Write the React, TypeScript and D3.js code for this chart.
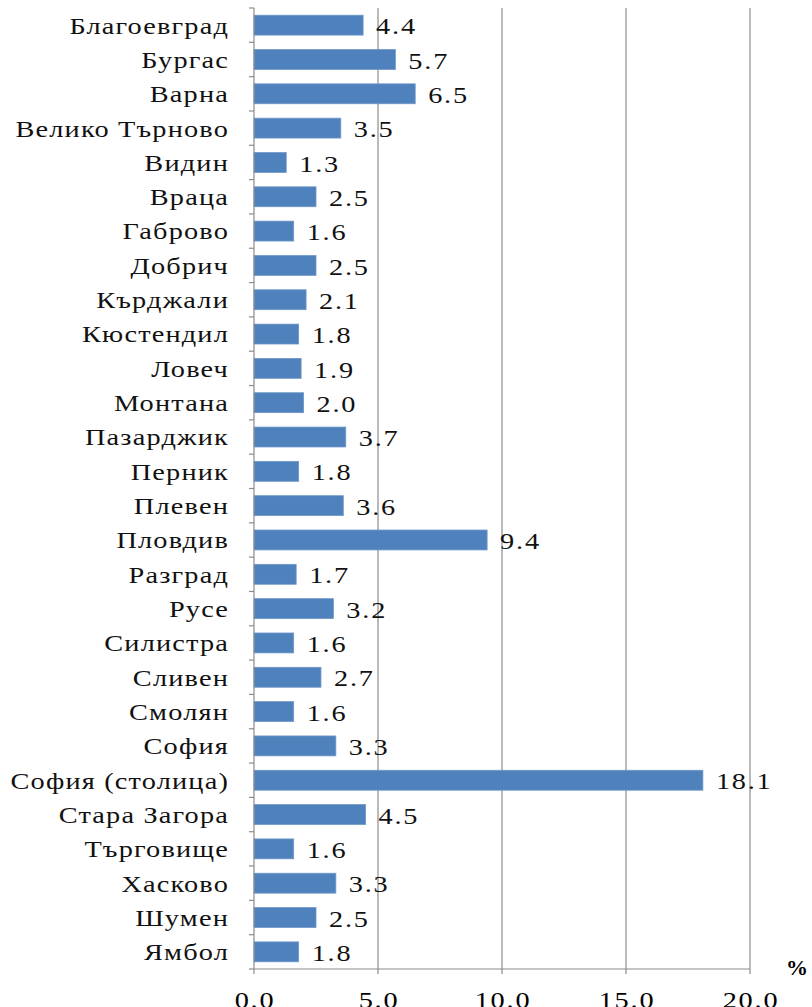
import React from 'react';
import * as d3 from 'd3';

// regions, top to bottom
const regions = [
  'Благоевград', 'Бургас', 'Варна', 'Велико Търново', 'Видин', 'Враца', 'Габрово',
  'Добрич', 'Кърджали', 'Кюстендил', 'Ловеч', 'Монтана', 'Пазарджик', 'Перник',
  'Плевен', 'Пловдив', 'Разград', 'Русе', 'Силистра', 'Сливен', 'Смолян', 'София',
  'София (столица)', 'Стара Загора', 'Търговище', 'Хасково', 'Шумен', 'Ямбол',
];
const shares = [
  4.4, 5.7, 6.5, 3.5, 1.3, 2.5, 1.6, 2.5, 2.1, 1.8, 1.9, 2.0, 3.7, 1.8,
  3.6, 9.4, 1.7, 3.2, 1.6, 2.7, 1.6, 3.3, 18.1, 4.5, 1.6, 3.3, 2.5, 1.8,
];
const xTicks = [0, 5, 10, 15, 20];

const W = 812;
const H = 1007;
const margin = { top: 8, right: 62, bottom: 38, left: 254 };
const serif = { fontFamily: "'Liberation Serif', 'DejaVu Serif', serif" };
// the source picture is stretched sideways, so the text is too
const stretch = 'scale(1.18,1)';

export default function App() {
  const x = d3.scaleLinear().domain([0, 20]).range([margin.left, W - margin.right]);
  const y = d3.scaleBand<string>()
    .domain(regions)
    .range([margin.top, H - margin.bottom])
    .paddingInner(0.42)
    .paddingOuter(0.21);
  const y0 = margin.top;
  const y1 = H - margin.bottom;
  const step = y.step();
  const mid = (r: string) => (y(r) ?? 0) + y.bandwidth() / 2;

  return (
    <div style={{ position: 'absolute', left: 0, top: 0 }}>
      <svg width={W} height={H} style={{ display: 'block', background: '#fff' }}>
        {/* vertical gridlines */}
        {xTicks.slice(1).map((t) => (
          <line key={t} x1={x(t)} x2={x(t)} y1={y0} y2={y1} stroke="#8c8c8c" strokeWidth={1.2} />
        ))}

        {/* bars */}
        {regions.map((r, i) => (
          <rect
            key={r}
            x={x(0)}
            y={y(r)}
            width={x(shares[i]) - x(0)}
            height={y.bandwidth()}
            fill="#4f81bd"
            stroke="#6f97c9"
            strokeWidth={0.8}
          />
        ))}

        {/* y axis */}
        <line x1={x(0)} x2={x(0)} y1={y0} y2={y1} stroke="#8c8c8c" strokeWidth={1.2} />
        {d3.range(regions.length + 1).map((i) => (
          <line key={i} x1={x(0) - 5} x2={x(0)} y1={y0 + i * step} y2={y0 + i * step} stroke="#8c8c8c" strokeWidth={1.2} />
        ))}

        {/* x axis */}
        <line x1={x(0)} x2={x(20)} y1={y1} y2={y1} stroke="#8c8c8c" strokeWidth={1.2} />
        {xTicks.map((t) => (
          <g key={t}>
            <line x1={x(t)} x2={x(t)} y1={y1} y2={y1 + 5} stroke="#8c8c8c" strokeWidth={1.2} />
            <text
              transform={`translate(${x(t) + 1},${y1 + 39}) ${stretch}`}
              textAnchor="middle"
              style={serif}
              fontSize={24}
              letterSpacing={1.5}
              fill="#000"
            >
              {t.toFixed(1)}
            </text>
          </g>
        ))}
        <text x={W - 4} y={y1 + 6} textAnchor="end" style={serif} fontSize={22} fontWeight="bold" fill="#000">%</text>

        {/* category labels */}
        {regions.map((r) => (
          <text
            key={r}
            transform={`translate(${x(0) - 25},${mid(r)}) ${stretch}`}
            dy="0.35em"
            textAnchor="end"
            style={serif}
            fontSize={24}
            letterSpacing={1}
            fill="#111"
          >
            {r}
          </text>
        ))}

        {/* value labels */}
        {regions.map((r, i) => (
          <text
            key={r}
            transform={`translate(${x(shares[i]) + 13},${mid(r)}) ${stretch}`}
            dy="0.38em"
            style={serif}
            fontSize={24}
            letterSpacing={1.5}
            fill="#111"
          >
            {shares[i].toFixed(1)}
          </text>
        ))}
      </svg>
    </div>
  );
}
